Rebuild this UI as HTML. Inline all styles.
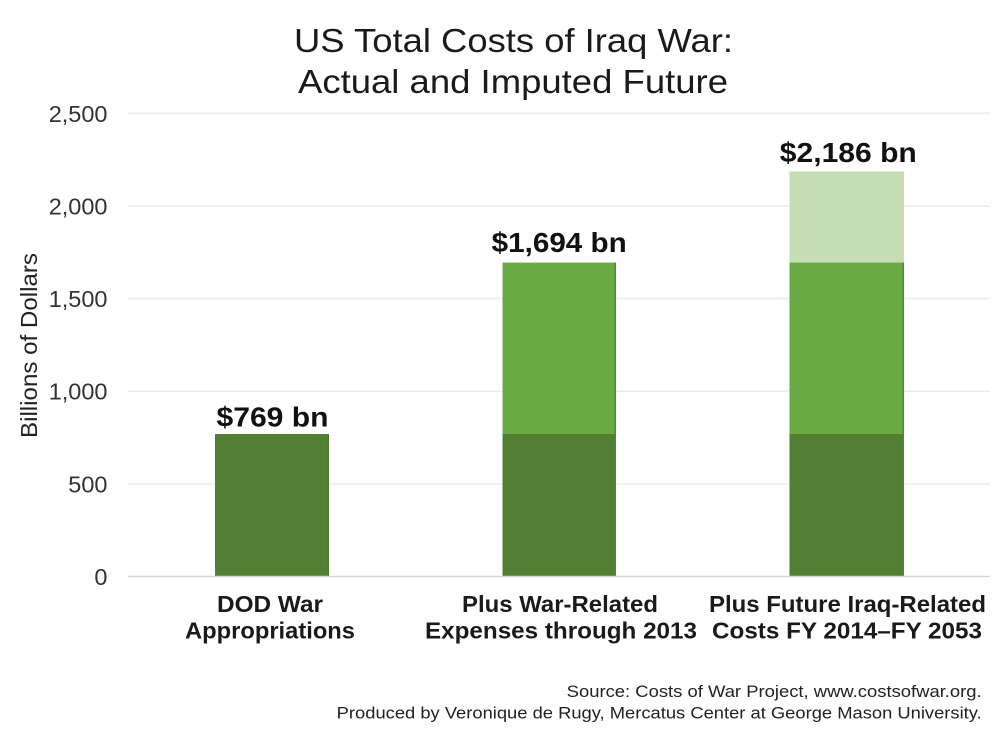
<!DOCTYPE html>
<html>
<head>
<meta charset="utf-8">
<style>
  html, body { margin: 0; padding: 0; background: #ffffff; }
  svg { display: block; }
  text { font-family: "Liberation Sans", Arial, sans-serif; }
</style>
</head>
<body>
<svg width="1000" height="747" viewBox="0 0 1000 747" xmlns="http://www.w3.org/2000/svg">
  <rect x="0" y="0" width="1000" height="747" fill="#ffffff"/>

  <!-- Title -->
  <text x="513.5" y="52" font-size="33" fill="#1a1a1a" text-anchor="middle" textLength="439" lengthAdjust="spacingAndGlyphs">US Total Costs of Iraq War:</text>
  <text x="513" y="93" font-size="33" fill="#1a1a1a" text-anchor="middle" textLength="430" lengthAdjust="spacingAndGlyphs">Actual and Imputed Future</text>

  <!-- Gridlines -->
  <g stroke="#ececec" stroke-width="1.5">
    <line x1="128" y1="113.3" x2="990" y2="113.3"/>
    <line x1="128" y1="206" x2="990" y2="206"/>
    <line x1="128" y1="298.6" x2="990" y2="298.6"/>
    <line x1="128" y1="391.2" x2="990" y2="391.2"/>
    <line x1="128" y1="483.9" x2="990" y2="483.9"/>
  </g>

  <!-- Y tick labels -->
  <g font-size="23.5" fill="#333333" text-anchor="end">
    <text x="107.5" y="121.8">2,500</text>
    <text x="107.5" y="214.5">2,000</text>
    <text x="107.5" y="307.1">1,500</text>
    <text x="107.5" y="399.7">1,000</text>
    <text x="107.5" y="492.4">500</text>
    <text x="107.5" y="585">0</text>
  </g>

  <!-- Y axis title -->
  <text transform="translate(37,345.5) rotate(-90)" font-size="23" fill="#222222" text-anchor="middle" textLength="185" lengthAdjust="spacingAndGlyphs">Billions of Dollars</text>

  <!-- Bars -->
  <!-- Bar 1 -->
  <rect x="215" y="434" width="114" height="142.5" fill="#537f35"/>
  <rect x="327.5" y="434" width="1.5" height="142.5" fill="#4a7a2a"/>

  <!-- Bar 2 -->
  <rect x="502.5" y="262.6" width="113.5" height="171.4" fill="#6aaa44"/>
  <rect x="502.5" y="434" width="113.5" height="142.5" fill="#537f35"/>
  <rect x="614.5" y="262.6" width="1.5" height="314" fill="#4f8a2c"/>

  <!-- Bar 3 -->
  <rect x="789.5" y="171.5" width="114.5" height="91.1" fill="#c5ddb1"/>
  <rect x="789.5" y="262.6" width="114.5" height="171.4" fill="#6aaa44"/>
  <rect x="789.5" y="434" width="114.5" height="142.5" fill="#537f35"/>
  <rect x="902.5" y="262.6" width="1.5" height="314" fill="#4f8a2c"/>

  <!-- Zero axis line -->
  <line x1="128" y1="576.5" x2="990" y2="576.5" stroke="#d6d6d6" stroke-width="1.5"/>

  <!-- Bar value labels -->
  <g font-size="28" font-weight="bold" fill="#111111" text-anchor="middle">
    <text x="272.5" y="426.7" textLength="112" lengthAdjust="spacingAndGlyphs">$769 bn</text>
    <text x="559.2" y="252" textLength="135" lengthAdjust="spacingAndGlyphs">$1,694 bn</text>
    <text x="848.3" y="161.8" textLength="137" lengthAdjust="spacingAndGlyphs">$2,186 bn</text>
  </g>

  <!-- Category labels -->
  <g font-size="23.5" font-weight="bold" fill="#1a1a1a" text-anchor="middle">
    <text x="270" y="612" textLength="106" lengthAdjust="spacingAndGlyphs">DOD War</text>
    <text x="270" y="638.5" textLength="170" lengthAdjust="spacingAndGlyphs">Appropriations</text>
    <text x="560" y="612" textLength="196" lengthAdjust="spacingAndGlyphs">Plus War-Related</text>
    <text x="561" y="638.5" textLength="272" lengthAdjust="spacingAndGlyphs">Expenses through 2013</text>
    <text x="847.5" y="612" textLength="277" lengthAdjust="spacingAndGlyphs">Plus Future Iraq-Related</text>
    <text x="847" y="638.5" textLength="270" lengthAdjust="spacingAndGlyphs">Costs FY 2014–FY 2053</text>
  </g>

  <!-- Source -->
  <g font-size="16.5" fill="#222222" text-anchor="end">
    <text x="981.7" y="697" textLength="415" lengthAdjust="spacingAndGlyphs">Source: Costs of War Project, www.costsofwar.org.</text>
    <text x="981.7" y="718.5" textLength="645" lengthAdjust="spacingAndGlyphs">Produced by Veronique de Rugy, Mercatus Center at George Mason University.</text>
  </g>
</svg>
</body>
</html>
